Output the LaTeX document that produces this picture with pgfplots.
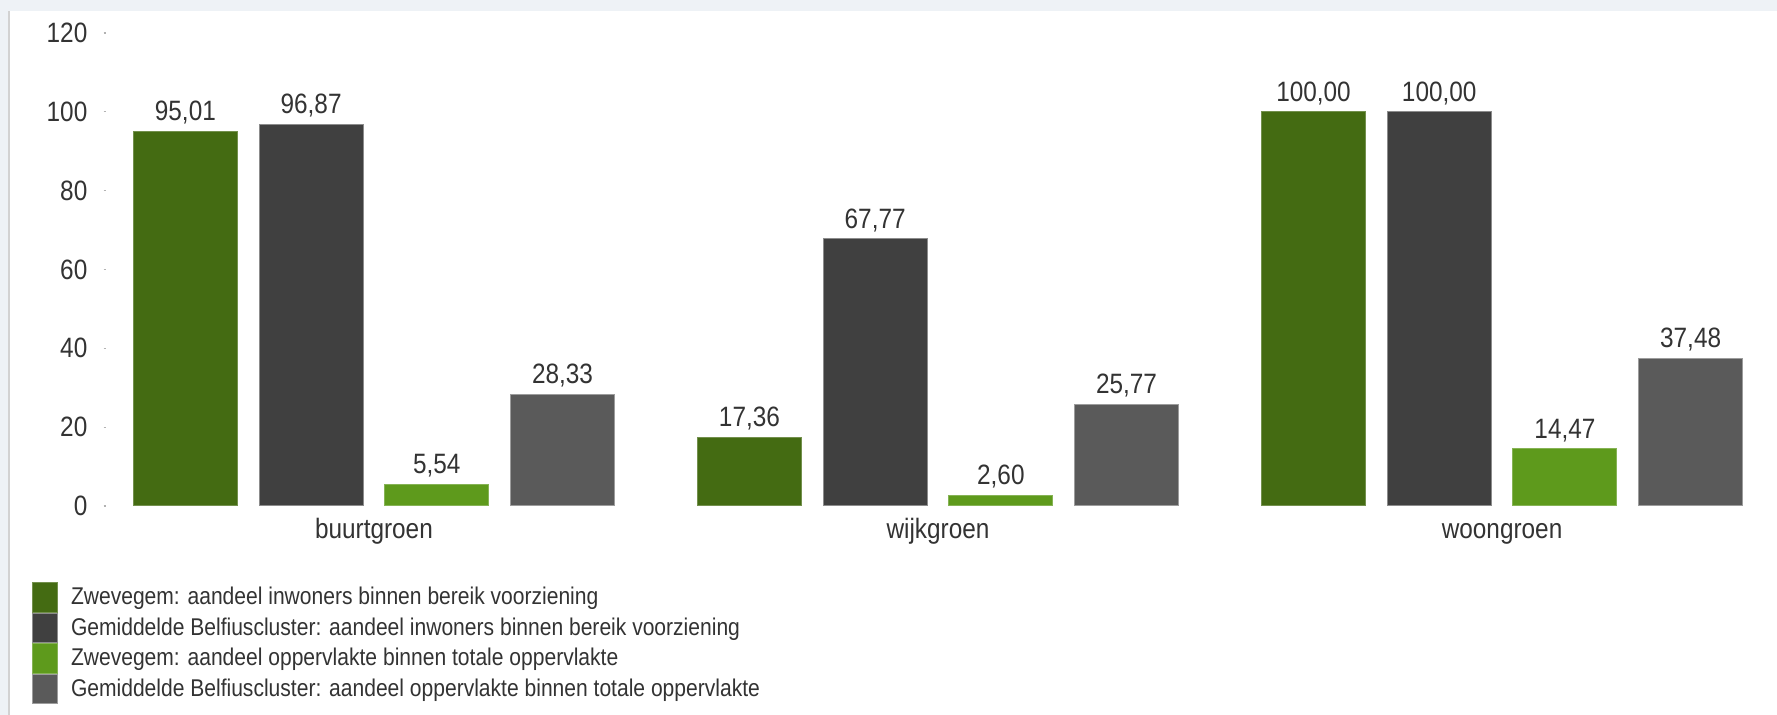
\documentclass[border=0pt]{standalone}
\usepackage{fontspec}
\setmainfont{Liberation Sans}[FakeStretch=0.87]
\usepackage{pgfplots}
\pgfplotsset{compat=1.18}
\definecolor{cA}{HTML}{446B12}
\definecolor{cB}{HTML}{404040}
\definecolor{cC}{HTML}{5E9A1C}
\definecolor{cD}{HTML}{5A5A5A}
\definecolor{txt}{HTML}{333333}
\definecolor{band}{HTML}{EEF2F6}
\begin{document}
\begin{tikzpicture}
\path[use as bounding box] (0,0) rectangle (888.5pt,357.5pt);
\fill[white] (0,0) rectangle (888.5pt,357.5pt);
\fill[band] (0,352pt) rectangle (888.5pt,357.5pt);
\fill[band] (0,0) rectangle (4pt,352pt);
\draw[line width=0.8pt, gray!35] (4.5pt,0) -- (4.5pt,352pt);
\begin{axis}[
  at={(53pt,104.5pt)}, anchor=south west,
  width=832pt, height=236.5pt, scale only axis,
  xmin=-0.475, xmax=2.475, ymin=0, ymax=120,
  ybar=10.85pt, bar width=52pt,
  ytick={0,20,...,120},
  xtick={0,1,2}, xticklabels={buurtgroen,wijkgroen,woongroen},
  axis line style={draw=none},
  xtick style={draw=none},
  ytick style={draw=gray!60, line width=0.6pt},
  major tick length=1.2pt,
  tick align=outside,
  tick pos=left,
  /pgf/number format/assume math mode=true,
  tick label style={font=\fontsize{14}{16}\selectfont, text=txt},
  yticklabel style={xshift=-4.6pt},
  xticklabel style={yshift=-1.3pt, text height=10.2pt, text depth=3pt},
  nodes near coords={\pgfmathprintnumber[fixed,fixed zerofill,precision=2,use comma,assume math mode=true]{\pgfplotspointmeta}},
  every node near coord/.append style={font=\fontsize{14}{16}\selectfont, text=txt},
  legend style={at={(-0.04465,-0.1607)}, anchor=north west, draw=none, fill=none,
    inner sep=0pt, outer sep=0pt, row sep=0pt,
    font=\fontsize{12.1}{14}\selectfont, text=txt,
    cells={anchor=west}, nodes={inner sep=0pt},
    /tikz/every odd column/.append style={column sep=6.65pt}},
  legend image code/.code={\fill[#1] (0pt,-7.4pt) rectangle (12.5pt,7.4pt);},
]
\addplot[fill=cA, draw=cA!75!white, line width=0.5pt] coordinates {(0,95.01) (1,17.36) (2,100.00)};
\addplot[fill=cB, draw=cB!60!white, line width=0.5pt] coordinates {(0,96.87) (1,67.77) (2,100.00)};
\addplot[fill=cC, draw=cC!75!white, line width=0.5pt] coordinates {(0,5.54) (1,2.60) (2,14.47)};
\addplot[fill=cD, draw=cD!60!white, line width=0.5pt] coordinates {(0,28.33) (1,25.77) (2,37.48)};
\legend{Zwevegem: aandeel inwoners binnen bereik voorziening,
Gemiddelde Belfiuscluster: aandeel inwoners binnen bereik voorziening,
Zwevegem: aandeel oppervlakte binnen totale oppervlakte,
Gemiddelde Belfiuscluster: aandeel oppervlakte binnen totale oppervlakte}
\end{axis}
\end{tikzpicture}
\end{document}
